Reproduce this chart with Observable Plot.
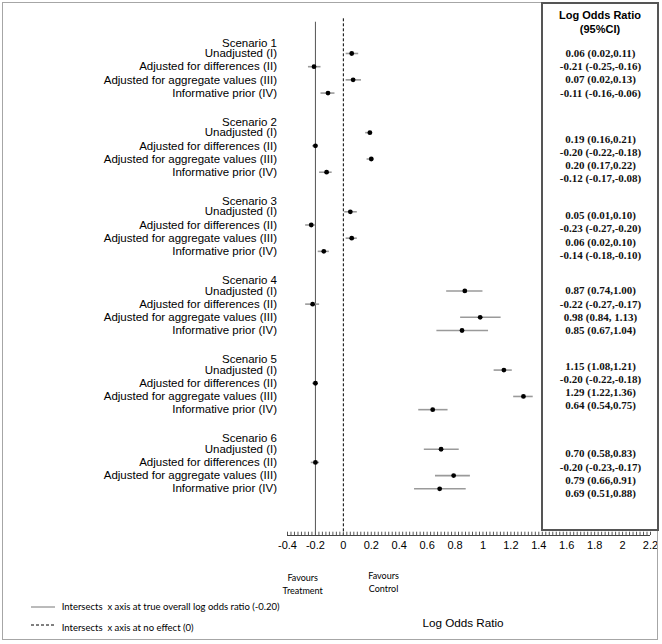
<!DOCTYPE html>
<html><head><meta charset="utf-8">
<script src="https://cdn.jsdelivr.net/npm/d3@7"></script>
<script src="https://cdn.jsdelivr.net/npm/@observablehq/plot@0.6"></script>
<style>
body{margin:0;background:#fff;}
#wrap{position:relative;width:662px;height:644px;overflow:hidden;font-family:"Liberation Sans",Arial,sans-serif;color:#000;}
#wrap svg{position:absolute;left:0;top:0;}
.ov{position:absolute;white-space:nowrap;}
</style></head><body><div id="wrap"></div>
<script>
// ---------- data ----------
const scenarios = ["Scenario 1", "Scenario 2", "Scenario 3", "Scenario 4", "Scenario 5", "Scenario 6"];
const methods = ["Unadjusted (I)", "Adjusted for differences (II)", "Adjusted for aggregate values (III)", "Informative prior (IV)"];
const estimates = [
  [0.06, -0.21, 0.07, -0.11],
  [0.19, -0.20, 0.20, -0.12],
  [0.05, -0.23, 0.06, -0.14],
  [0.87, -0.22, 0.98, 0.85],
  [1.15, -0.20, 1.29, 0.64],
  [0.70, -0.20, 0.79, 0.69]
];
const lower = [
  [0.02, -0.25, 0.02, -0.16],
  [0.16, -0.22, 0.17, -0.17],
  [0.01, -0.27, 0.02, -0.18],
  [0.74, -0.27, 0.84, 0.67],
  [1.08, -0.22, 1.22, 0.54],
  [0.58, -0.23, 0.66, 0.51]
];
const upper = [
  [0.11, -0.16, 0.13, -0.06],
  [0.21, -0.18, 0.22, -0.08],
  [0.10, -0.20, 0.10, -0.10],
  [1.00, -0.17, 1.13, 1.04],
  [1.21, -0.18, 1.36, 0.75],
  [0.83, -0.17, 0.91, 0.88]
];
const ciText = [
  ["0.06 (0.02,0.11)", "-0.21 (-0.25,-0.16)", "0.07 (0.02,0.13)", "-0.11 (-0.16,-0.06)"],
  ["0.19 (0.16,0.21)", "-0.20 (-0.22,-0.18)", "0.20 (0.17,0.22)", "-0.12 (-0.17,-0.08)"],
  ["0.05 (0.01,0.10)", "-0.23 (-0.27,-0.20)", "0.06 (0.02,0.10)", "-0.14 (-0.18,-0.10)"],
  ["0.87 (0.74,1.00)", "-0.22 (-0.27,-0.17)", "0.98 (0.84, 1.13)", "0.85 (0.67,1.04)"],
  ["1.15 (1.08,1.21)", "-0.20 (-0.22,-0.18)", "1.29 (1.22,1.36)", "0.64 (0.54,0.75)"],
  ["0.70 (0.58,0.83)", "-0.20 (-0.23,-0.17)", "0.79 (0.66,0.91)", "0.69 (0.51,0.88)"]
];
const xTicks = [-0.4, -0.2, 0, 0.2, 0.4, 0.6, 0.8, 1, 1.2, 1.4, 1.6, 1.8, 2, 2.2];
const trueEffect = -0.2;
const noEffect = 0;

// ---------- layout ----------
const ROWS_PER = 6;          // header + 4 methods + gap
const HEAD_OFF = 0.2;
const Y_MAX = 37.54;
const panelShift = [0, 0.5, 0.3, 0, -0.3, 0.35];
const minorStep = 0.025;

const rows = [];
scenarios.forEach((sc, s) => methods.forEach((m, r) => rows.push({
  scenario: sc, method: m,
  est: estimates[s][r], lo: lower[s][r], hi: upper[s][r], ci: ciText[s][r],
  idx: s * ROWS_PER + r + 1,
  tidx: s * ROWS_PER + r + 1 + panelShift[s]
})));
const heads = scenarios.map((sc, s) => ({label: sc, idx: s * ROWS_PER + HEAD_OFF}));
const minorTicks = d3.range(0, Math.round((2.2 + 0.4) / minorStep) + 1).map(i => -0.4 + i * minorStep);

const chart = Plot.plot({
  width: 662, height: 644,
  marginLeft: 287, marginRight: 12, marginTop: 39.8, marginBottom: 109,
  x: {domain: [-0.4, 2.2], label: null},
  y: {domain: [0, Y_MAX], reverse: true, axis: null},
  style: {fontFamily: "'Liberation Sans', Arial, sans-serif", fontSize: "11px", background: "transparent", color: "#000"},
  marks: [
    Plot.ruleX([trueEffect], {x: d => d, y1: -1.37, y2: Y_MAX, stroke: "#555", strokeWidth: 1}),
    Plot.ruleX([noEffect], {x: d => d, y1: -1.63, y2: Y_MAX, stroke: "#000", strokeWidth: 1, strokeDasharray: "3,2"}),
    Plot.ruleX(minorTicks, {x: d => d, y1: Y_MAX, y2: Y_MAX - 0.25, stroke: "#555", strokeWidth: 1}),
    Plot.ruleY([Y_MAX], {stroke: "#444", strokeWidth: 1}),
    Plot.axisX({ticks: xTicks, tickSize: 0, tickPadding: 6, tickFormat: d => String(d), fontSize: 11, fill: "#000"}),
    Plot.ruleY(rows, {y: "idx", x1: "lo", x2: "hi", stroke: "#9a9a9a", strokeWidth: 1.6}),
    Plot.dot(rows, {x: "est", y: "idx", r: 2.4, fill: "#000", stroke: null}),
    Plot.text(heads, {y: "idx", text: "label", frameAnchor: "left", dx: -10.5, textAnchor: "end", fontSize: 11.5, fill: "#000"}),
    Plot.text(rows, {y: "idx", text: "method", frameAnchor: "left", dx: -10.5, textAnchor: "end", fontSize: 11.5, fill: "#000"}),
    Plot.text(rows, {y: "tidx", text: "ci", frameAnchor: "right", dx: -50, textAnchor: "middle",
      fontFamily: "'Liberation Serif', 'Times New Roman', serif", fontWeight: "bold", fontSize: 11, fill: "#111"})
  ]
});

const wrap = document.getElementById("wrap");
wrap.appendChild(chart);

function ov(html, css) {
  const d = document.createElement("div");
  d.className = "ov";
  d.innerHTML = html;
  Object.assign(d.style, css);
  wrap.appendChild(d);
  return d;
}
// outer frame
ov("", {left: "2px", top: "2px", width: "656px", height: "638px", border: "1px solid #a6a6a6", boxSizing: "border-box"});
// right panel box
ov("", {left: "541px", top: "2px", width: "118px", height: "529px", border: "2px solid #555", boxSizing: "border-box"});
ov("Log Odds Ratio", {left: "541px", width: "118px", textAlign: "center", top: "9px", lineHeight: "13px", fontSize: "11px", fontWeight: "bold"});
ov("(95%CI)", {left: "541px", width: "118px", textAlign: "center", top: "22.5px", lineHeight: "13px", fontSize: "11px", fontWeight: "bold"});
// axis title
ov("Log Odds Ratio", {left: "403px", width: "120px", textAlign: "center", top: "615.5px", lineHeight: "14px", fontSize: "11.7px"});
// favours labels
const fav = {fontFamily: "Lato, 'Open Sans', sans-serif", fontSize: "9px", lineHeight: "13px", textAlign: "center", width: "80px"};
ov("Favours<br>Treatment", Object.assign({left: "262.7px", top: "570.5px"}, fav));
ov("Favours<br>Control", Object.assign({left: "343.5px", top: "568.5px"}, fav));
// legend
ov('<svg width="26" height="4"><line x1="0" x2="24" y1="2" y2="2" stroke="#777" stroke-width="1"/></svg>', {left: "31px", top: "604.7px", lineHeight: "0"});
ov('<svg width="26" height="4"><line x1="0" x2="24" y1="2" y2="2" stroke="#000" stroke-width="1" stroke-dasharray="3,2"/></svg>', {left: "31px", top: "623px", lineHeight: "0"});
const leg = {fontFamily: "Lato, 'Open Sans', sans-serif", fontSize: "9.5px", lineHeight: "12px", left: "61.7px"};
ov("Intersects&nbsp; x axis at true overall log odds ratio (-0.20)", Object.assign({top: "600.7px"}, leg));
ov("Intersects&nbsp; x axis at no effect (0)", Object.assign({top: "621.7px"}, leg));
</script>
</body></html>
